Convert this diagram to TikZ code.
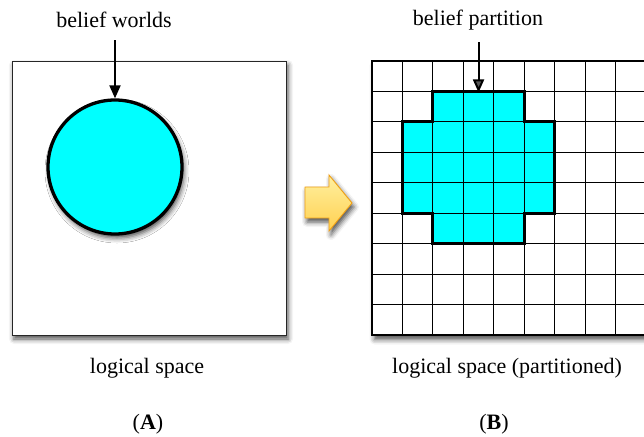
\documentclass[tikz,border=0pt]{standalone}
\usepackage{fontspec}
\setmainfont{Liberation Serif}
\usetikzlibrary{arrows.meta,shadows.blur}
\definecolor{bcyan}{RGB}{0,255,255}
\definecolor{arrowtop}{RGB}{255,240,160}
\definecolor{arrowbot}{RGB}{255,208,80}
\definecolor{arrowedge}{RGB}{240,160,20}
\begin{document}
\begin{tikzpicture}[x=1pt,y=-1pt,
  lbl/.style={font=\fontsize{22}{26}\selectfont, inner sep=0pt},
  softshadow/.style={blur shadow={shadow xshift=2pt, shadow yshift=-4pt, shadow blur radius=5pt, shadow opacity=70}},
  spacebox/.style={draw=black!85, line width=1pt, fill=white, softshadow, minimum size=274pt, inner sep=0pt},
  worldcircle/.style={circle, draw=black, line width=3.3pt, fill=bcyan, softshadow, minimum size=134pt, inner sep=0pt},
  ptr/.style={-{Triangle[length=13pt,width=11pt]}, line width=2pt},
  gridline/.style={draw=black, line width=1.1pt},
  outline/.style={draw=black, line width=3pt, line join=miter},
  blockarrow/.style={draw=arrowedge, line width=0.9pt, top color=arrowtop, bottom color=arrowbot, softshadow}
]
\useasboundingbox (0,0) rectangle (644,436);

% ---------- (A) ----------
\node[spacebox] (spaceA) at (149,198) {};
\node[worldcircle] (worlds) at (115,167) {};
\node[lbl] (lw) at (114,20) {belief worlds};
\draw[ptr] ([yshift=-12pt]worlds.north |- lw.south) -- (worlds.north);
\node[lbl] (lsA) at (147,368) {logical space};
\node[lbl] (capA) at (148,424) {(\textbf{A})};

% ---------- transition arrow ----------
\path[blockarrow] (305,187) -- (329,187) -- (329,175) -- (352,203) -- (329,231) -- (329,218) -- (305,218) -- cycle;

% ---------- (B) ----------
\node[spacebox, draw=none, anchor=north west] (spaceB) at (372,61) {};
\begin{scope}[shift={(372,61)}, x=30.44pt, y=-30.44pt]
  \fill[bcyan] (2,1) -- (5,1) -- (5,2) -- (6,2) -- (6,5) -- (5,5) -- (5,6) -- (2,6) -- (2,5) -- (1,5) -- (1,2) -- (2,2) -- cycle;
  \foreach \i in {1,...,8} {
    \draw[gridline] (\i,0) -- (\i,9);
    \draw[gridline] (0,\i) -- (9,\i);
  }
  \draw[gridline] (0,0) rectangle (9,9);
  \draw[outline] (2,1) -- (5,1) -- (5,2) -- (6,2) -- (6,5) -- (5,5) -- (5,6) -- (2,6) -- (2,5) -- (1,5) -- (1,2) -- (2,2) -- cycle;
  \coordinate (crosstop) at (3.5,1);
\end{scope}
\node[lbl] (lp) at (478,20) {belief partition};
\draw[ptr] ([yshift=-12pt]crosstop |- lp.south) -- ([yshift=-1pt]crosstop);
\node[lbl] (lsB) at (507,368) {logical space (partitioned)};
\node[lbl] (capB) at (494,424) {(\textbf{B})};
\end{tikzpicture}
\end{document}
